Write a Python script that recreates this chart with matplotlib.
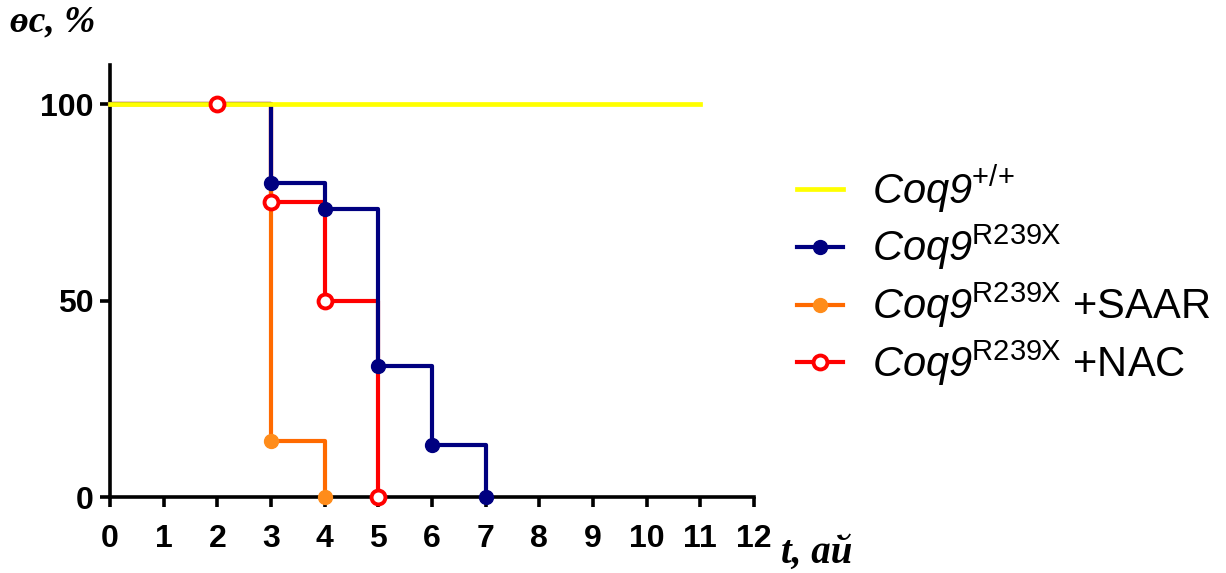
import matplotlib
matplotlib.use("Agg")
import matplotlib.pyplot as plt
from matplotlib.lines import Line2D

plt.rcParams["font.family"] = ["Liberation Sans", "DejaVu Sans"]
# italic gene name in \mathrm, upright superscripts in \mathsf
plt.rcParams["mathtext.fontset"] = "custom"
plt.rcParams["mathtext.rm"] = "Liberation Sans:italic"
plt.rcParams["mathtext.it"] = "Liberation Sans:italic"
plt.rcParams["mathtext.sf"] = "Liberation Sans"

# survival curves (month, % alive)
wt_t = [0, 11]
wt_s = [100, 100]

mut_t = [0, 3, 4, 5, 6, 7]
mut_s = [100, 80, 73.3, 33.3, 13.3, 0]

saar_t = [0, 3, 4]
saar_s = [100, 14.3, 0]

nac_t = [0, 3, 4, 5]
nac_s = [100, 75, 50, 0]
nac_cens_t = [2]
nac_cens_s = [100]

labels = [
    r"$\mathrm{Coq9}^{\mathsf{{+}/{+}}}$",
    r"$\mathrm{Coq9}^{\mathsf{R239X}}$",
    r"$\mathrm{Coq9}^{\mathsf{R239X}}$ +SAAR",
    r"$\mathrm{Coq9}^{\mathsf{R239X}}$ +NAC",
]

c_wt = "#ffff00"
c_mut = "#000080"
c_saar = "#ff6a00"
c_saar_m = "#ff8c1a"
c_nac = "#ff0000"
lw = 3.0
ms = 10

fig = plt.figure(figsize=(12.26, 5.73), dpi=100)
ax = fig.add_axes([0.0897, 0.1326, 0.5253, 0.754])

ax.step(nac_t, nac_s, where="post", color=c_nac, lw=lw, zorder=2, clip_on=False)
ax.step(saar_t, saar_s, where="post", color=c_saar, lw=lw, zorder=3, clip_on=False)
ax.step(mut_t, mut_s, where="post", color=c_mut, lw=lw, zorder=4, clip_on=False)
ax.plot(wt_t, wt_s, color=c_wt, lw=lw + 0.4, zorder=5, clip_on=False)

ax.plot(nac_t[1:] + nac_cens_t, nac_s[1:] + nac_cens_s, "o", ms=ms,
        mfc="white", mec=c_nac, mew=2.8, zorder=6, clip_on=False)
ax.plot(saar_t[1:], saar_s[1:], "o", ms=ms, color=c_saar_m, zorder=7, clip_on=False)
ax.plot(mut_t[1:], mut_s[1:], "o", ms=ms, color=c_mut, zorder=8, clip_on=False)

ax.set_xlim(0, 12)
ax.set_ylim(0, 110)
ax.set_xticks(range(0, 13))
ax.set_yticks([0, 50, 100])
for side in ("top", "right"):
    ax.spines[side].set_visible(False)
for side in ("left", "bottom"):
    ax.spines[side].set_linewidth(2.6)
ax.tick_params(length=7.5, width=2.6)
ax.tick_params(axis="x", pad=12)
ax.tick_params(axis="y", pad=4)
for lab in ax.get_xticklabels() + ax.get_yticklabels():
    lab.set_fontsize(23)
    lab.set_fontweight("bold")

serif = ["Liberation Serif", "DejaVu Serif"]
fig.text(0.008, 0.962, "өс, %", family=serif, style="italic", weight="bold",
         fontsize=27, va="center", ha="left")
fig.text(0.637, 0.035, "t, ай", family=serif, style="italic", weight="bold",
         fontsize=28, va="center", ha="left")

handles = [
    Line2D([], [], color=c_wt, lw=lw + 0.4),
    Line2D([], [], color=c_mut, lw=lw, marker="o", ms=ms),
    Line2D([], [], color=c_saar, lw=lw, marker="o", ms=ms, mfc=c_saar_m, mec=c_saar_m),
    Line2D([], [], color=c_nac, lw=lw, marker="o", ms=ms, mfc="white", mec=c_nac, mew=2.8),
]
fig.legend(handles, labels, loc="upper left", bbox_to_anchor=(0.650, 0.715),
           frameon=False, fontsize=30, handlelength=1.1, handletextpad=0.7,
           labelspacing=0.2, borderaxespad=0, borderpad=0)

fig.savefig("out.png", dpi=100)
